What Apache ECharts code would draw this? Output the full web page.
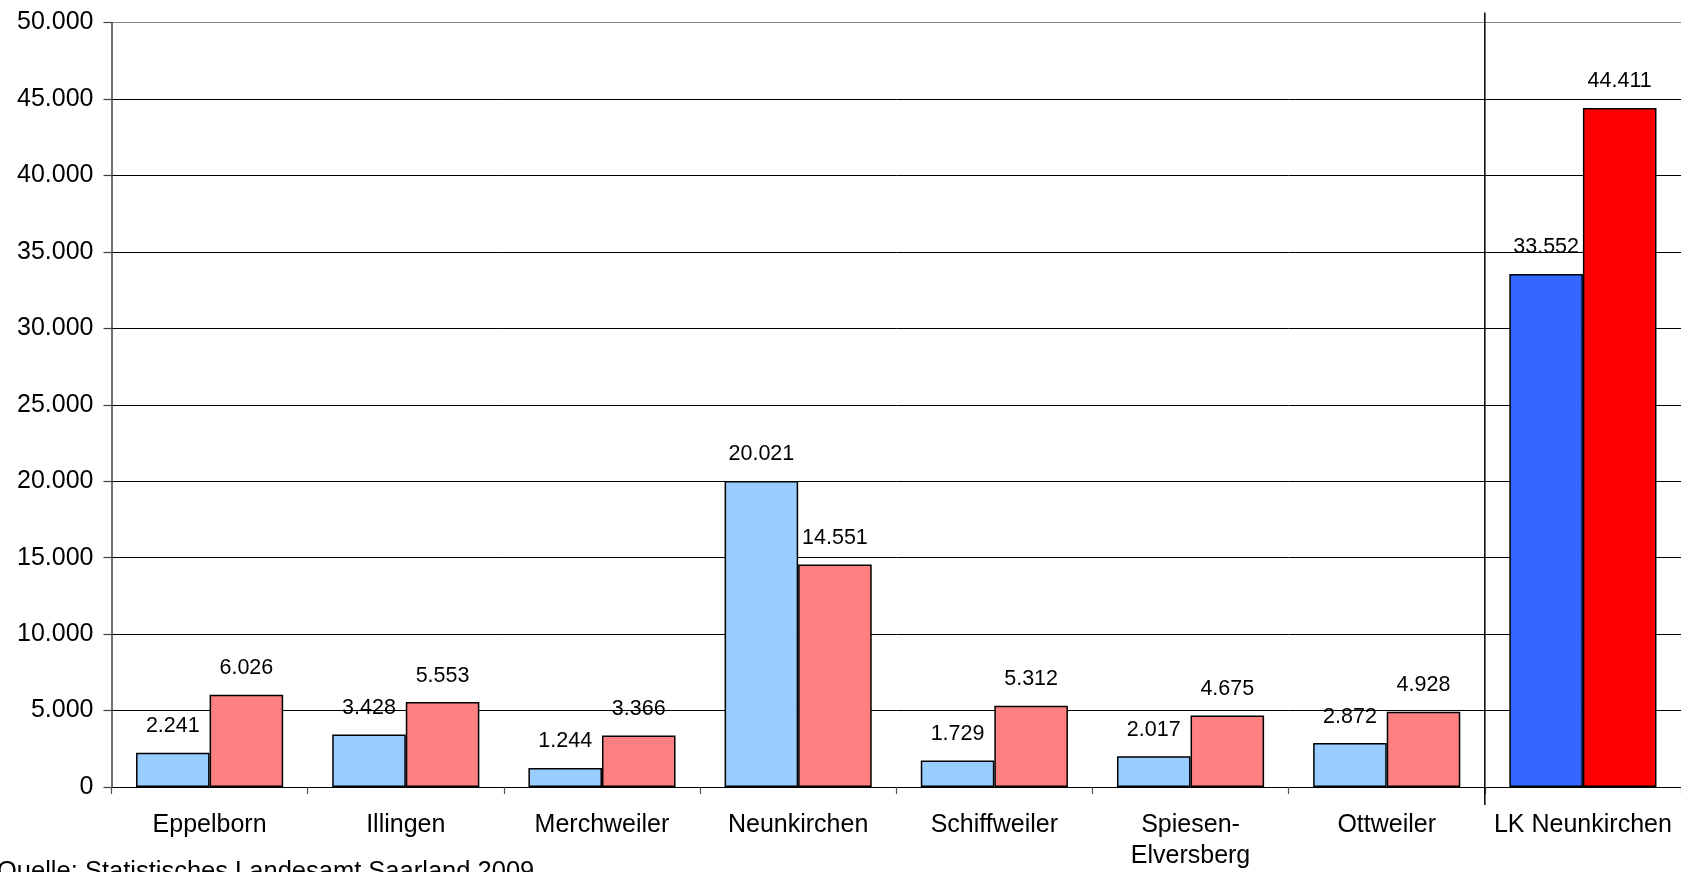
<!DOCTYPE html>
<html>
<head>
<meta charset="utf-8">
<script src="https://cdn.jsdelivr.net/npm/echarts@6/dist/echarts.min.js"></script>
<style>
html,body{margin:0;padding:0;background:#fff;}
#chart{width:1681px;height:872px;}
</style>
</head>
<body>
<div id="chart"></div>
<script>
const categories = ['Eppelborn', 'Illingen', 'Merchweiler', 'Neunkirchen', 'Schiffweiler', 'Spiesen-\nElversberg', 'Ottweiler', 'LK Neunkirchen'];
const seriesA = [2241, 3428, 1244, 20021, 1729, 2017, 2872, 33552];
const seriesB = [6026, 5553, 3366, 14551, 5312, 4675, 4928, 44411];
const yTicks = { min: 0, max: 50000, interval: 5000 };
const sourceText = 'Quelle: Statistisches Landesamt Saarland 2009';

const FONT = '"Liberation Sans", Arial, sans-serif';
const fmt = v => String(Math.round(v)).replace(/\B(?=(\d{3})+(?!\d))/g, '.');

const colorsA = ['#99CCFF', '#3366FF'];
const colorsB = ['#FF8080', '#FF0000'];
const lastIdx = categories.length - 1;

function mkData(vals, cols) {
  return vals.map((v, i) => ({
    value: v,
    itemStyle: { color: i === lastIdx ? cols[1] : cols[0] }
  }));
}

const labelCfg = {
  show: true, position: 'top', distance: 15.5,
  fontFamily: FONT, fontSize: 21.5, color: '#000',
  formatter: p => fmt(p.value)
};

const gridColors = [];
for (let i = 0; i <= 10; i++) gridColors.push(i === 10 ? '#888888' : '#000000');

const chart = echarts.init(document.getElementById('chart'), null, { renderer: 'canvas' });
chart.setOption({
  animation: false,
  backgroundColor: '#ffffff',
  grid: { left: 111.5, right: -2, top: 22.5, bottom: 85, containLabel: false },
  xAxis: {
    type: 'category',
    data: categories,
    axisLine: { show: true, lineStyle: { color: '#000', width: 1.2 } },
    axisTick: { show: true, alignWithLabel: false, length: 7, lineStyle: { color: '#555', width: 1.2 } },
    axisLabel: { interval: 0, margin: 23, fontFamily: FONT, fontSize: 25, color: '#000', lineHeight: 31 },
    splitLine: { show: false }
  },
  yAxis: {
    type: 'value',
    min: yTicks.min, max: yTicks.max, interval: yTicks.interval,
    axisLine: { show: true, lineStyle: { color: '#404040', width: 1.5 } },
    axisTick: { show: true, length: 8, lineStyle: { color: '#404040', width: 1.2 } },
    axisLabel: { margin: 18, fontFamily: FONT, fontSize: 25, color: '#000', formatter: fmt },
    splitLine: { show: true, lineStyle: { color: gridColors, width: 1 } }
  },
  series: [
    {
      type: 'bar', data: mkData(seriesA, colorsA),
      barGap: '0%', barCategoryGap: '25%',
      itemStyle: { borderColor: '#000', borderWidth: 1.5 },
      label: labelCfg
    },
    {
      type: 'bar', data: mkData(seriesB, colorsB),
      barGap: '0%', barCategoryGap: '25%',
      itemStyle: { borderColor: '#000', borderWidth: 1.5 },
      label: labelCfg
    }
  ]
});

// separator line before the district total, derived from the axis scale
const c1 = chart.convertToPixel({ xAxisIndex: 0 }, categories[lastIdx]);
const c0 = chart.convertToPixel({ xAxisIndex: 0 }, categories[lastIdx - 1]);
const sepX = (c0 + c1) / 2;
const yTop = chart.convertToPixel({ yAxisIndex: 0 }, yTicks.max);
const yBot = chart.convertToPixel({ yAxisIndex: 0 }, yTicks.min);
chart.setOption({
  graphic: [
    {
      type: 'line', z: 10,
      shape: { x1: sepX, y1: yTop - 10, x2: sepX, y2: yBot + 18 },
      style: { stroke: '#000', lineWidth: 1.5 }
    },
    {
      type: 'text', left: -3, top: 859, z: 10,
      style: { text: sourceText, font: '25.5px ' + FONT, fill: '#000' }
    }
  ]
});
</script>
</body>
</html>
